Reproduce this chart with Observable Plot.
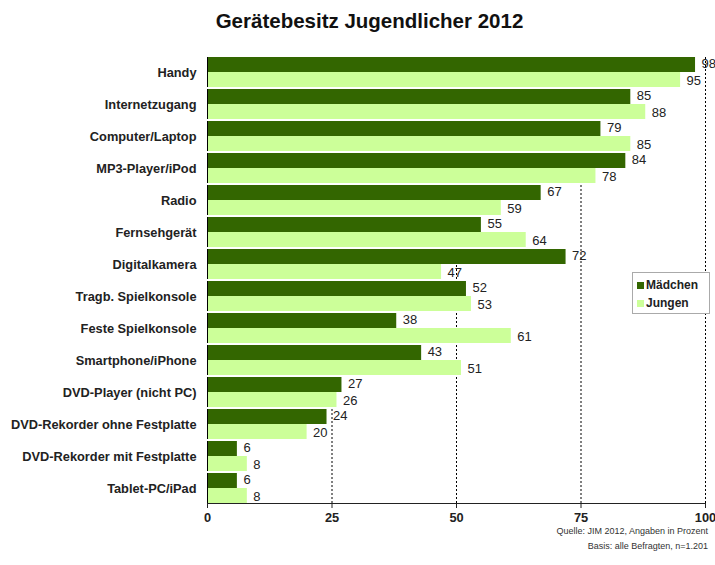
<!DOCTYPE html>
<html>
<head>
<meta charset="utf-8">
<script src="https://cdn.jsdelivr.net/npm/d3@7"></script>
<script src="https://cdn.jsdelivr.net/npm/@observablehq/plot@0.6"></script>
<style>
  body { margin: 0; background: #fff; font-family: "Liberation Sans", Arial, sans-serif; }
  #wrap { position: relative; width: 715px; height: 565px; }
  #title { height: 40px; line-height: 42px; font-size: 20.5px; font-weight: bold; color: #111; text-align: center; padding-left: 24px; box-sizing: border-box; }
  #legend { position: absolute; left: 632px; top: 272px; width: 78px; height: 42px; border: 1px solid #aaa; background: #fff; font-size: 12px; font-weight: bold; color: #222; box-sizing: border-box; padding: 3px 0 0 4px; }
  #legend div { height: 18px; line-height: 18px; }
  #legend span.sw { display: inline-block; width: 7px; height: 7px; margin-right: 2px; vertical-align: 0px; }
  #caption { position: absolute; right: 7px; top: 524px; font-size: 9px; color: #333; text-align: right; line-height: 15px; }
  svg text { font-family: "Liberation Sans", Arial, sans-serif; }
</style>
</head>
<body>
<div id="wrap">
  <div id="title">Gerätebesitz Jugendlicher 2012</div>
  <div id="chart"></div>
  <div id="legend"></div>
  <div id="caption">Quelle: JIM 2012, Angaben in Prozent<br>Basis: alle Befragten, n=1.201</div>
</div>
<script>
const categories = ["Handy", "Internetzugang", "Computer/Laptop", "MP3-Player/iPod", "Radio", "Fernsehgerät", "Digitalkamera", "Tragb. Spielkonsole", "Feste Spielkonsole", "Smartphone/iPhone", "DVD-Player (nicht PC)", "DVD-Rekorder ohne Festplatte", "DVD-Rekorder mit Festplatte", "Tablet-PC/iPad"];
const maedchen = [98, 85, 79, 84, 67, 55, 72, 52, 38, 43, 27, 24, 6, 6];
const jungen = [95, 88, 85, 78, 59, 64, 47, 53, 61, 51, 26, 20, 8, 8];
const series = ["Mädchen", "Jungen"];
const colors = ["#336600", "#ccff99"];
const xTicks = [0, 25, 50, 75, 100];

const rows = [];
categories.forEach((c, i) => {
  rows.push({cat: c, sex: series[0], val: maedchen[i]});
  rows.push({cat: c, sex: series[1], val: jungen[i]});
});

const chart = Plot.plot({
  width: 715,
  height: 493,
  marginTop: 17,
  marginBottom: 30,
  marginLeft: 207,
  marginRight: 10,
  style: {fontSize: "12.8px", fontWeight: "bold", color: "#222", background: "#fff"},
  x: {domain: [0, 100], ticks: xTicks, tickSize: 5, label: null, line: true},
  y: {domain: series, padding: 0, axis: null},
  fy: {domain: categories, padding: 0.07, label: null, tickSize: 0, tickPadding: 11, axis: "left"},
  color: {domain: series, range: colors},
  facet: {data: rows, y: "cat", marginLeft: 207},
  marks: [
    Plot.ruleX(xTicks.slice(1), {stroke: "#000", strokeDasharray: "2,2", strokeWidth: 1}),
    Plot.barX(rows, {x: "val", y: "sex", fill: "sex"}),
    Plot.ruleX([0], {stroke: "#000"}),
    Plot.text(rows, {filter: d => d.sex === series[0], x: "val", y: "sex", text: d => String(d.val), textAnchor: "start", dx: 6, dy: -1, fill: "#222", fontSize: 13, fontWeight: "normal"}),
    Plot.text(rows, {filter: d => d.sex === series[1], x: "val", y: "sex", text: d => String(d.val), textAnchor: "start", dx: 6, dy: 1, fill: "#222", fontSize: 13, fontWeight: "normal"})
  ]
});
document.getElementById("chart").appendChild(chart);

const leg = document.getElementById("legend");
series.forEach((s, i) => {
  const d = document.createElement("div");
  d.innerHTML = `<span class="sw" style="background:${colors[i]}"></span>${s}`;
  leg.appendChild(d);
});
</script>
</body>
</html>
